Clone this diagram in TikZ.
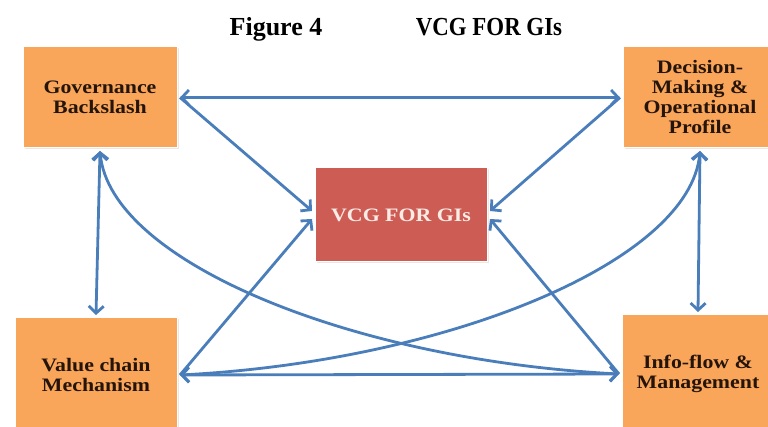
\documentclass[tikz,border=0pt]{standalone}
\usepackage{fontspec}
\setmainfont{Liberation Serif}
\newfontfamily\boxfont[FakeStretch=1.15]{Liberation Serif}
\usetikzlibrary{arrows.meta,shadows}

\definecolor{boxorange}{RGB}{249,165,90}
\definecolor{corered}{RGB}{205,92,85}
\definecolor{coretext}{RGB}{251,236,230}
\definecolor{linkblue}{RGB}{74,126,187}
\definecolor{boxtext}{RGB}{36,20,10}

\tikzset{
  block/.style={rectangle, fill=boxorange, draw=white, line width=1pt,
    text=boxtext, font=\boxfont\bfseries\fontsize{19}{20}\selectfont,
    align=center, inner sep=0pt, outer sep=3pt,
    drop shadow={opacity=0.18, shadow xshift=1.5pt, shadow yshift=-1.5pt}},
  coreblock/.style={block, fill=corered, text=coretext},
  tip/.style={Straight Barb[length=7pt,width=15pt]},
  link/.style={draw=linkblue, line width=2.8pt, arrows={Straight Barb[length=7pt,width=15pt]-Straight Barb[length=7pt,width=15pt]}},
  tolink/.style={draw=linkblue, line width=2.8pt, arrows={-Straight Barb[length=7pt,width=15pt]}},
  titletext/.style={font=\bfseries\fontsize{26}{28}\selectfont, inner sep=0pt}
}

\begin{document}
\begin{tikzpicture}[x=1pt, y=-1pt]
  \useasboundingbox[fill=white] (0,0) rectangle (768,427);

  % heading
  \node[titletext, anchor=base] (figno) at (276,36) {Figure 4};
  \node[titletext, anchor=base] (figname) at (489,36) {\scalebox{0.88}[1]{VCG FOR GIs}};

  % the five blocks
  \node[block, minimum width=154pt, minimum height=101pt] (gov) at (100,97.5)
    {Governance\\Backslash};
  \node[block, minimum width=154pt, minimum height=101pt] (dec) at (700,97.5)
    {Decision-\\Making \&\\Operational\\Profile};
  \node[coreblock, minimum width=172pt, minimum height=94pt] (vcg) at (401,215)
    {VCG FOR GIs};
  \node[block, minimum width=162pt, minimum height=114pt] (val) at (96,375)
    {Value chain\\Mechanism};
  \node[block, minimum width=152pt, minimum height=118pt] (info) at (698,374)
    {Info-flow \&\\Management};

  % straight links
  \draw[link] (gov.east) -- (dec.west);
  \draw[link] (val.east) -- (info.west);
  \draw[link] (gov.south) -- (val.north);
  \draw[link] (dec.south) -- (info.north);

  % links into the core block
  \draw[tolink] (gov.east) -- ([yshift=4pt]vcg.west);
  \draw[tolink] (val.east) -- ([yshift=-4pt]vcg.west);
  \draw[tolink] (dec.west) -- ([yshift=4pt]vcg.east);
  \draw[tolink] (info.west) -- ([yshift=-4pt]vcg.east);

  % crossing curves
  \draw[link] (gov.south) .. controls +(10,110) and +(-269,-14) .. (info.west);
  \draw[link] (dec.south) .. controls +(-10,110) and +(269,-14) .. (val.east);
\end{tikzpicture}
\end{document}
